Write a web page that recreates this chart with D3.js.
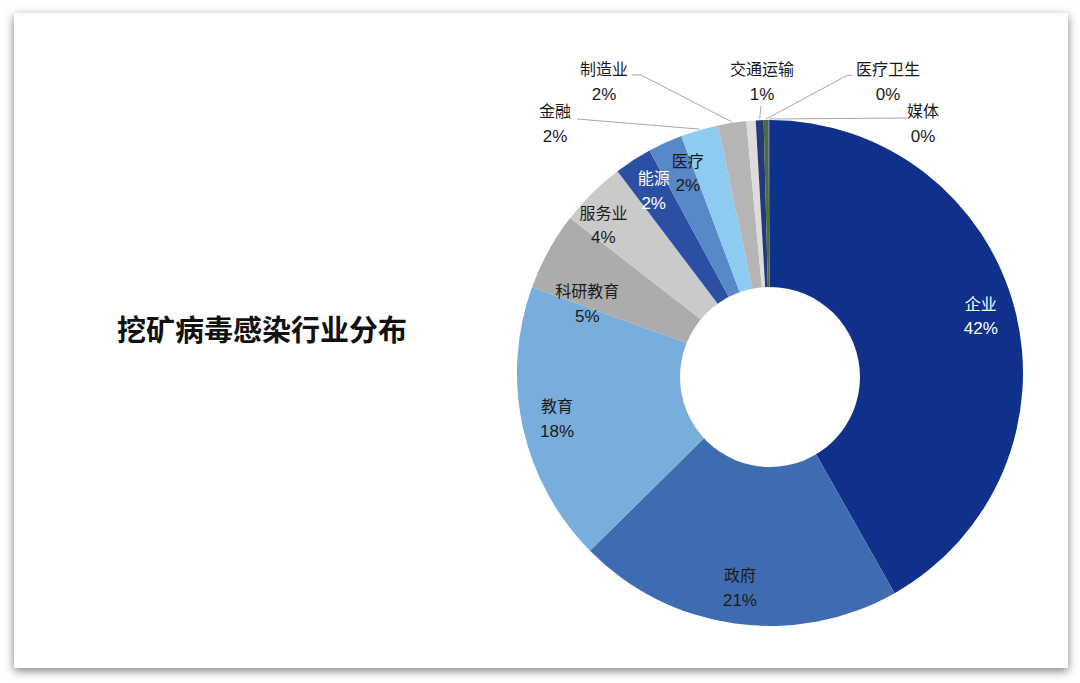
<!DOCTYPE html>
<html>
<head>
<meta charset="utf-8">
<script src="https://cdn.jsdelivr.net/npm/d3@7"></script>
<style>
  html, body { margin: 0; padding: 0; background: #ffffff; }
  svg { display: block; }
</style>
</head>
<body>
<svg id="chart" width="1080" height="683"></svg>
<script>
// ---- data ----
const title = "挖矿病毒感染行业分布";
const categories = ["企业", "政府", "教育", "科研教育", "服务业", "能源", "医疗", "金融", "制造业", "", "交通运输", "医疗卫生", "媒体"];
const values = [41.8, 20.8, 17.9, 5.0, 4.2, 2.4, 2.2, 2.4, 1.8, 0.6, 0.5, 0.3, 0.1];
const colors = ["#10318b", "#3f6cb0", "#78addc", "#acacac", "#cacaca", "#2b4fa3", "#5888c7", "#8ecbf0", "#b5b5b5", "#dcdcdc", "#213a7c", "#4d6b3e", "#3c5a8c"];
const insideLabels = ["企业", "政府", "教育", "科研教育", "服务业", "能源", "医疗"];
const whiteLabels = ["企业", "能源"];

// ---- layout ----
const svg = d3.select("#chart");
const cx = 770, cy = 373, R = 253, holeR = 90;

const defs = svg.append("defs");
const f = defs.append("filter").attr("id", "shadow")
  .attr("x", "-5%").attr("y", "-6%").attr("width", "110%").attr("height", "114%");
f.append("feDropShadow").attr("dx", 0).attr("dy", 3).attr("stdDeviation", 5)
  .attr("flood-color", "#000").attr("flood-opacity", 0.5);

svg.append("rect").attr("x", 14).attr("y", 13).attr("width", 1054).attr("height", 655)
  .attr("fill", "#fff").attr("filter", "url(#shadow)");

// title
svg.append("text")
  .attr("x", 262).attr("y", 333)
  .attr("text-anchor", "middle").attr("dominant-baseline", "middle")
  .attr("font-family", "'Noto Sans CJK SC', sans-serif")
  .attr("font-weight", "bold").attr("font-size", 29).attr("fill", "#111")
  .text(title);

const data = categories.map((c, i) => ({ name: c, value: values[i], color: colors[i] }));
const total = d3.sum(values);
const pie = d3.pie().value(d => d.value).sort(null).startAngle(0).endAngle(2 * Math.PI);
const arcs = pie(data);
const arcGen = d3.arc().innerRadius(0).outerRadius(R);

const g = svg.append("g").attr("transform", `translate(${cx},${cy})`);
g.selectAll("path.slice").data(arcs).enter().append("path")
  .attr("class", "slice")
  .attr("d", arcGen)
  .attr("fill", d => d.data.color);

// donut hole
svg.append("circle").attr("cx", cx).attr("cy", cy + 4).attr("r", holeR).attr("fill", "#fff");

const pct = v => Math.round(v / total * 100) + "%";
const pt = (a, r) => [Math.sin(a) * r, -Math.cos(a) * r];
const FONT = "'Liberation Sans', Arial, 'Noto Sans CJK SC', sans-serif";

// inside labels: small angular / radial nudges for crowded slices
const nudge = { "科研教育": [-8.3, -23], "服务业": [-4, 4], "医疗": [2, -3], "能源": [0, -3] };
arcs.filter(d => insideLabels.includes(d.data.name)).forEach(d => {
  const n = nudge[d.data.name] || [0, 0];
  const a = (d.startAngle + d.endAngle) / 2 + n[0] * Math.PI / 180;
  const [x, y] = pt(a, 218 + n[1]);
  const col = whiteLabels.includes(d.data.name) ? "#fff" : "#1a1a1a";
  const t = g.append("text").attr("text-anchor", "middle").attr("font-family", FONT).attr("fill", col);
  t.append("tspan").attr("x", x).attr("y", y - 12).attr("dominant-baseline", "middle")
    .attr("font-size", 16).text(d.data.name);
  t.append("tspan").attr("x", x).attr("y", y + 12.5).attr("dominant-baseline", "middle")
    .attr("font-size", 17).text(pct(d.data.value));
});

// outside labels with leader lines (text block centre, leader start, optional elbow)
const outside = {
  "金融":     { at: [555, 125], from: [[577, 119]] },
  "制造业":   { at: [604, 83],  from: [[632, 75], [641, 75]] },
  "交通运输": { at: [762, 83],  from: [[761, 106]] },
  "医疗卫生": { at: [888, 83],  from: [[852, 75], [846, 76]] },
  "媒体":     { at: [923, 125], from: [[907, 118]] }
};
arcs.filter(d => outside[d.data.name]).forEach(d => {
  const o = outside[d.data.name];
  const a = (d.startAngle + d.endAngle) / 2;
  const [ex, ey] = pt(a, R + 1);
  const pts = o.from.concat([[cx + ex, cy + ey]]);
  svg.append("path").attr("d", d3.line()(pts))
    .attr("fill", "none").attr("stroke", "#a6a6a6").attr("stroke-width", 1);
  const t = svg.append("text").attr("text-anchor", "middle").attr("font-family", FONT).attr("fill", "#1a1a1a");
  t.append("tspan").attr("x", o.at[0]).attr("y", o.at[1] - 12).attr("dominant-baseline", "middle")
    .attr("font-size", 16).text(d.data.name);
  t.append("tspan").attr("x", o.at[0]).attr("y", o.at[1] + 12.5).attr("dominant-baseline", "middle")
    .attr("font-size", 17).text(pct(d.data.value));
});
</script>
</body>
</html>
